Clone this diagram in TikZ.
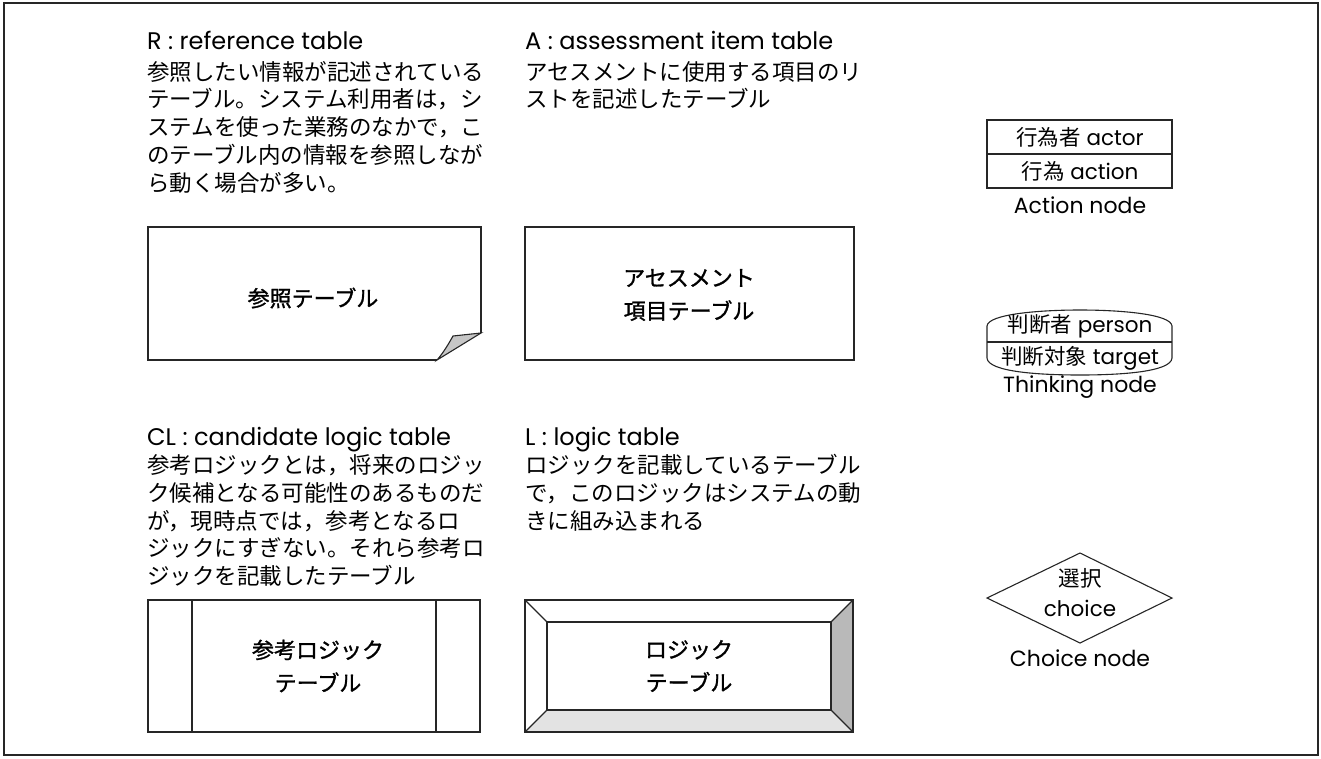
\documentclass[tikz,border=0pt]{standalone}
\usepackage{fontspec}
\setmainfont{Poppins}
\newfontfamily\cjk{Noto Sans CJK JP}
\newfontfamily\cjkb[FakeBold=1.2]{Noto Sans CJK JP}
\begin{document}
\begin{tikzpicture}[x=1pt,y=-1pt,
  hdr/.style={anchor=base west,inner sep=0pt,font=\fontsize{24}{28}\selectfont},
  txt/.style={anchor=base west,inner sep=0pt,font=\cjk\fontsize{22.5}{28}\selectfont},
  lbl/.style={inner sep=0pt,font=\cjkb\fontsize{22}{28}\selectfont},
  nd/.style={inner sep=0pt,font=\fontsize{21.5}{24}\selectfont},
  ndl/.style={inner sep=0pt,font=\fontsize{22}{24}\selectfont},
  edge/.style={line width=1.1pt,draw=black!85},
  box/.style={edge,rectangle,inner sep=0pt}]
\useasboundingbox (0,0) rectangle (1321,758);
\draw[edge] (4,3) rectangle (1318,755);

% ---------- R ----------
\node[hdr] (rh) at (147,49) {R : reference table};
\foreach \t [count=\i from 0] in {参照したい情報が記述されている,テーブル。システム利用者は，シ,ステムを使った業務のなかで，こ,のテーブル内の情報を参照しなが,ら動く場合が多い。}
  \node[txt] (r\i) at (147,80+27.8*\i) {\t};
\coordinate (rf1) at (437,360);
\coordinate (rf2) at (481,333);
\draw[edge] (481,333) -- (481,227) -- (148,227) -- (148,360) -- (437,360);
\filldraw[edge,fill=gray!45] (rf1) .. controls (444,352) and (449,343) .. (453,336) -- (rf2) -- cycle;
\node[lbl] (rlab) at (313,298) {参照テーブル};

% ---------- A ----------
\node[hdr] (ah) at (525,49) {A : assessment item table};
\foreach \t [count=\i from 0] in {アセスメントに使用する項目のリ,ストを記述したテーブル}
  \node[txt] (a\i) at (525,80+27.8*\i) {\t};
\node[box,minimum width=329pt,minimum height=133pt] (abox) at (689.5,293.5) {};
\node[lbl,align=center] (alab) at (689,295) {アセスメント\\[5pt]項目テーブル};

% ---------- CL ----------
\node[hdr] (clh) at (147,445) {CL : candidate logic table};
\foreach \t [count=\i from 0] in {参考ロジックとは，将来のロジッ,ク候補となる可能性のあるものだ,が，現時点では，参考となるロ,ジックにすぎない。それら参考ロ,ジックを記載したテーブル}
  \node[txt] (cl\i) at (147,473.5+27.8*\i) {\t};
\node[box,minimum width=332pt,minimum height=132pt] (clbox) at (314,666) {};
\draw[edge] (192,600) -- (192,732);
\draw[edge] (436,600) -- (436,732);
\node[lbl,align=center] (cllab) at (318,666) {参考ロジック\\[5pt]テーブル};

% ---------- L ----------
\node[hdr] (lh) at (525,445) {L : logic table};
\foreach \t [count=\i from 0] in {ロジックを記載しているテーブル,で，このロジックはシステムの動,きに組み込まれる}
  \node[txt] (l\i) at (525,473.5+27.8*\i) {\t};
\fill[gray!55] (831,622) -- (853,600) -- (853,732) -- (831,710) -- cycle;
\fill[gray!22] (547,710) -- (831,710) -- (853,732) -- (525,732) -- cycle;
\node[box,minimum width=328pt,minimum height=132pt] (lbox) at (689,666) {};
\node[box,minimum width=284pt,minimum height=88pt] (lin) at (689,666) {};
\draw[edge] (lbox.north west) -- (lin.north west);
\draw[edge] (lbox.north east) -- (lin.north east);
\draw[edge] (lbox.south west) -- (lin.south west);
\draw[edge] (lbox.south east) -- (lin.south east);
\node[lbl,align=center] (llab) at (689,666) {ロジック\\[5pt]テーブル};

% ---------- Action node ----------
\node[box,minimum width=185pt,minimum height=34pt] (act1) at (1079.5,137) {};
\node[box,minimum width=185pt,minimum height=34pt] (act2) at (1079.5,171) {};
\node[nd] (act1t) at (1080,137) {{\cjk 行為者} actor};
\node[nd] (act2t) at (1080,171) {{\cjk 行為} action};
\node[ndl] (actl) at (1080,205) {Action node};

% ---------- Thinking node ----------
\draw[edge] (987,326) .. controls (988,314) and (1040,310) .. (1080,310)
  .. controls (1120,310) and (1171,314) .. (1172,326) -- (1172,358)
  .. controls (1171,372) and (1120,375) .. (1080,375)
  .. controls (1040,375) and (988,372) .. (987,358) -- cycle;
\draw[edge] (987,342) -- (1172,342);
\node[nd] (th1) at (1080,326) {{\cjk 判断者} person};
\node[nd] (th2) at (1080,358) {{\cjk 判断対象} target};
\node[ndl] (thl) at (1080,387) {Thinking node};

% ---------- Choice node ----------
\coordinate (cW) at (987,598);
\coordinate (cN) at (1080,553);
\coordinate (cE) at (1172,598);
\coordinate (cS) at (1080,643);
\draw[edge] (cW) -- (cN) -- (cE) -- (cS) -- cycle;
\node[nd] (ch1) at (1080,578) {\cjk 選択};
\node[nd] (ch2) at (1080,608) {choice};
\node[ndl] (chl) at (1080,658) {Choice node};
\end{tikzpicture}
\end{document}
